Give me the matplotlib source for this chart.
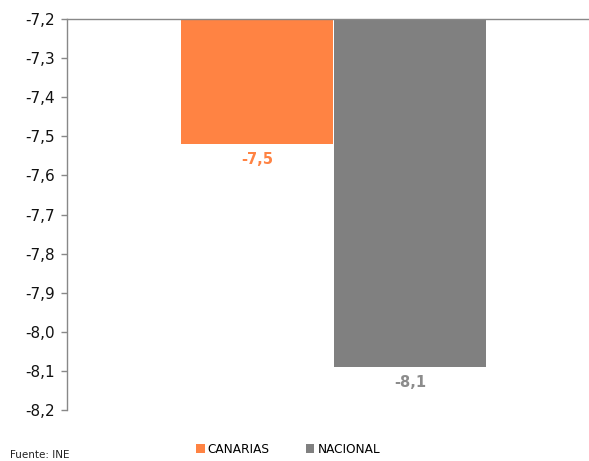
import matplotlib
matplotlib.use('Agg')
import matplotlib.pyplot as plt
from matplotlib.patches import Patch

series = ['CANARIAS', 'NACIONAL']
values = [-7.52, -8.09]
labels = ['-7,5', '-8,1']
colors = ['#FF8343', '#808080']
label_colors = ['#FF8343', '#8C8C8C']
yticks = [-7.2, -7.3, -7.4, -7.5, -7.6, -7.7, -7.8, -7.9, -8.0, -8.1, -8.2]

plt.rcParams['font.family'] = ['DejaVu Sans']

fig = plt.figure(figsize=(5.89, 4.61), dpi=100)
ax = fig.add_axes([67 / 589, 1 - 410 / 461, 1 - 67 / 589, 391 / 461])

base = -7.2
x = [0, 1]
for xi, v, c in zip(x, values, colors):
    ax.bar(xi, v - base, bottom=base, width=0.995, color=c, edgecolor='none')

for xi, v, lab, lc in zip(x, values, labels, label_colors):
    ax.annotate(lab, (xi, v), xytext=(0, -11), textcoords='offset points',
                ha='center', va='center', fontsize=10.5, fontweight='bold', color=lc)

ax.set_ylim(-8.2, -7.2)
ax.set_xlim(-1.242, 2.17)
ax.set_yticks(yticks)
ax.set_yticklabels([f'{t:.1f}'.replace('.', ',') for t in yticks])
ax.set_xticks([])
ax.tick_params(axis='y', length=4, width=1, color='#888888', labelsize=11,
               labelcolor='#111111', pad=5)

for s in ['right', 'bottom']:
    ax.spines[s].set_visible(False)
for s in ['left', 'top']:
    ax.spines[s].set_color('#888888')
    ax.spines[s].set_linewidth(1)

handles = [Patch(facecolor=c, edgecolor='none') for c in colors]
fig.legend(handles, series, loc='center', bbox_to_anchor=(288 / 589, 1 - 449 / 461),
           ncol=2, frameon=False, fontsize=8.7, handlelength=0.7, handleheight=0.7,
           handletextpad=0.25, columnspacing=3.0)

fig.text(10 / 589, 1 - 455 / 461, 'Fuente: INE', fontsize=7.5, color='#222222',
         ha='left', va='center')

fig.savefig('out.png', dpi=100)
